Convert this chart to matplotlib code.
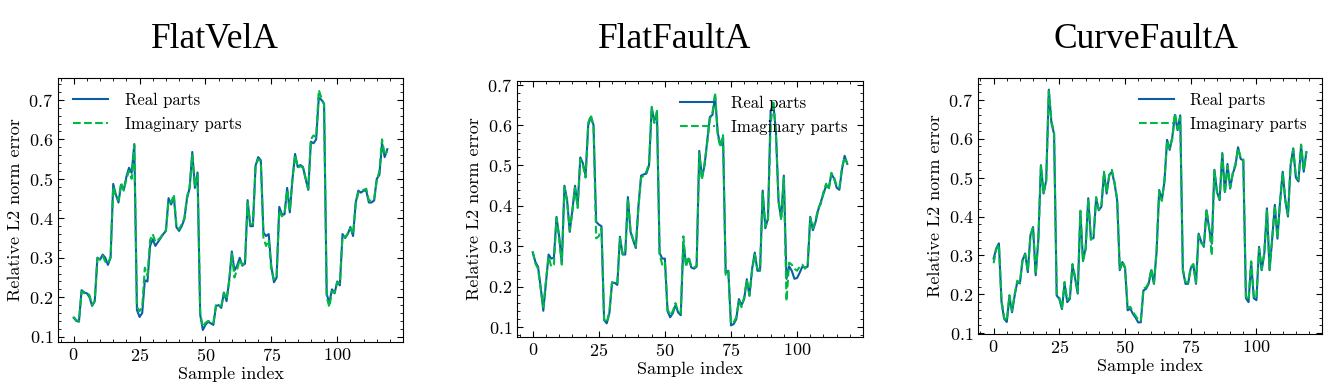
import numpy as np
import matplotlib
matplotlib.use("Agg")
import matplotlib.pyplot as plt
from matplotlib.ticker import MultipleLocator

plt.rcParams['font.family'] = 'serif'
plt.rcParams['font.serif'] = ['cmr10', 'DejaVu Serif']
plt.rcParams['mathtext.fontset'] = 'cm'
plt.rcParams['axes.formatter.use_mathtext'] = True

# Datos (error relativo L2 por muestra)
titulos = ['FlatVelA', 'FlatFaultA', 'CurveFaultA']

flatvel_real = [0.148, 0.140, 0.138, 0.218, 0.212, 0.210, 0.200, 0.178, 0.190, 0.300,
                0.295, 0.308, 0.300, 0.282, 0.300, 0.487, 0.460, 0.440, 0.485, 0.472,
                0.505, 0.528, 0.515, 0.588, 0.168, 0.150, 0.160, 0.243, 0.240, 0.330,
                0.347, 0.330, 0.340, 0.350, 0.360, 0.368, 0.451, 0.435, 0.455, 0.377,
                0.368, 0.380, 0.398, 0.450, 0.477, 0.568, 0.477, 0.516, 0.156, 0.117,
                0.130, 0.138, 0.134, 0.130, 0.178, 0.180, 0.173, 0.212, 0.190, 0.243,
                0.316, 0.268, 0.280, 0.300, 0.280, 0.285, 0.446, 0.380, 0.380, 0.533,
                0.555, 0.547, 0.364, 0.355, 0.360, 0.277, 0.238, 0.250, 0.429, 0.410,
                0.410, 0.477, 0.415, 0.498, 0.563, 0.530, 0.535, 0.530, 0.500, 0.472,
                0.594, 0.590, 0.600, 0.706, 0.700, 0.690, 0.208, 0.186, 0.220, 0.210,
                0.240, 0.230, 0.360, 0.350, 0.360, 0.378, 0.355, 0.440, 0.470, 0.465,
                0.470, 0.470, 0.440, 0.440, 0.445, 0.500, 0.510, 0.590, 0.555, 0.575]
flatvel_imag = [0.150, 0.142, 0.140, 0.215, 0.210, 0.212, 0.205, 0.180, 0.192, 0.298,
                0.297, 0.305, 0.290, 0.285, 0.302, 0.480, 0.455, 0.445, 0.490, 0.470,
                0.500, 0.520, 0.500, 0.585, 0.175, 0.165, 0.175, 0.275, 0.255, 0.345,
                0.360, 0.340, 0.345, 0.352, 0.362, 0.370, 0.445, 0.440, 0.460, 0.380,
                0.372, 0.385, 0.400, 0.455, 0.480, 0.560, 0.480, 0.510, 0.160, 0.125,
                0.135, 0.140, 0.138, 0.135, 0.180, 0.178, 0.178, 0.210, 0.195, 0.240,
                0.310, 0.250, 0.270, 0.295, 0.282, 0.287, 0.440, 0.385, 0.385, 0.530,
                0.550, 0.545, 0.350, 0.330, 0.345, 0.270, 0.245, 0.255, 0.420, 0.405,
                0.412, 0.470, 0.420, 0.500, 0.560, 0.528, 0.532, 0.528, 0.502, 0.475,
                0.600, 0.610, 0.605, 0.725, 0.705, 0.690, 0.200, 0.175, 0.215, 0.212,
                0.238, 0.235, 0.355, 0.352, 0.362, 0.375, 0.360, 0.435, 0.465, 0.468,
                0.472, 0.475, 0.445, 0.445, 0.450, 0.495, 0.520, 0.600, 0.560, 0.570]

flatfault_real = [0.285, 0.262, 0.250, 0.200, 0.141, 0.210, 0.280, 0.270, 0.272, 0.373,
                  0.325, 0.259, 0.450, 0.415, 0.336, 0.390, 0.450, 0.400, 0.520, 0.505,
                  0.475, 0.600, 0.620, 0.600, 0.361, 0.354, 0.350, 0.118, 0.110, 0.135,
                  0.210, 0.210, 0.205, 0.324, 0.280, 0.280, 0.422, 0.336, 0.315, 0.296,
                  0.400, 0.475, 0.478, 0.480, 0.500, 0.641, 0.610, 0.630, 0.284, 0.270,
                  0.270, 0.140, 0.125, 0.135, 0.155, 0.137, 0.130, 0.308, 0.255, 0.270,
                  0.248, 0.245, 0.250, 0.536, 0.470, 0.500, 0.560, 0.620, 0.625, 0.670,
                  0.580, 0.550, 0.570, 0.235, 0.240, 0.105, 0.108, 0.120, 0.170, 0.155,
                  0.170, 0.219, 0.178, 0.245, 0.285, 0.240, 0.240, 0.438, 0.345, 0.370,
                  0.633, 0.654, 0.585, 0.410, 0.370, 0.475, 0.220, 0.251, 0.240, 0.220,
                  0.222, 0.235, 0.250, 0.248, 0.250, 0.373, 0.340, 0.360, 0.390, 0.410,
                  0.430, 0.450, 0.445, 0.479, 0.468, 0.445, 0.440, 0.490, 0.524, 0.504]
flatfault_imag = [0.288, 0.258, 0.245, 0.195, 0.150, 0.215, 0.275, 0.250, 0.255, 0.370,
                  0.320, 0.255, 0.445, 0.410, 0.340, 0.385, 0.445, 0.395, 0.515, 0.500,
                  0.470, 0.605, 0.625, 0.595, 0.320, 0.325, 0.345, 0.120, 0.112, 0.138,
                  0.212, 0.208, 0.210, 0.320, 0.282, 0.282, 0.418, 0.340, 0.318, 0.300,
                  0.398, 0.470, 0.475, 0.485, 0.505, 0.645, 0.605, 0.635, 0.280, 0.255,
                  0.262, 0.145, 0.130, 0.140, 0.160, 0.140, 0.135, 0.325, 0.250, 0.275,
                  0.250, 0.248, 0.252, 0.530, 0.465, 0.505, 0.555, 0.615, 0.630, 0.680,
                  0.575, 0.545, 0.575, 0.230, 0.238, 0.110, 0.112, 0.125, 0.165, 0.150,
                  0.175, 0.215, 0.180, 0.240, 0.280, 0.245, 0.242, 0.430, 0.350, 0.365,
                  0.600, 0.660, 0.580, 0.415, 0.365, 0.470, 0.165, 0.260, 0.255, 0.245,
                  0.240, 0.250, 0.255, 0.245, 0.252, 0.370, 0.345, 0.365, 0.395, 0.405,
                  0.435, 0.455, 0.440, 0.482, 0.470, 0.450, 0.445, 0.495, 0.520, 0.505]

curvefault_real = [0.292, 0.318, 0.331, 0.180, 0.137, 0.129, 0.193, 0.154, 0.197, 0.232,
                   0.228, 0.288, 0.305, 0.257, 0.352, 0.373, 0.249, 0.340, 0.532, 0.459,
                   0.493, 0.726, 0.640, 0.612, 0.197, 0.188, 0.162, 0.228, 0.180, 0.188,
                   0.275, 0.241, 0.202, 0.412, 0.288, 0.318, 0.447, 0.344, 0.344, 0.447,
                   0.416, 0.425, 0.511, 0.459, 0.507, 0.515, 0.485, 0.442, 0.262, 0.283,
                   0.267, 0.159, 0.163, 0.150, 0.140, 0.128, 0.128, 0.210, 0.214, 0.227,
                   0.262, 0.227, 0.309, 0.468, 0.442, 0.490, 0.597, 0.571, 0.605, 0.661,
                   0.622, 0.660, 0.262, 0.227, 0.227, 0.267, 0.275, 0.227, 0.356, 0.335,
                   0.322, 0.416, 0.369, 0.330, 0.520, 0.463, 0.442, 0.563, 0.463, 0.535,
                   0.472, 0.510, 0.530, 0.578, 0.548, 0.544, 0.190, 0.180, 0.283, 0.190,
                   0.185, 0.322, 0.262, 0.305, 0.421, 0.262, 0.343, 0.430, 0.343, 0.440,
                   0.515, 0.440, 0.400, 0.532, 0.575, 0.500, 0.490, 0.582, 0.515, 0.565]
curvefault_imag = [0.280, 0.315, 0.328, 0.185, 0.140, 0.132, 0.198, 0.158, 0.200, 0.235,
                   0.230, 0.290, 0.302, 0.260, 0.350, 0.370, 0.252, 0.338, 0.530, 0.462,
                   0.490, 0.722, 0.645, 0.615, 0.200, 0.192, 0.165, 0.232, 0.185, 0.192,
                   0.278, 0.245, 0.205, 0.415, 0.285, 0.315, 0.445, 0.340, 0.348, 0.450,
                   0.418, 0.428, 0.515, 0.462, 0.505, 0.520, 0.488, 0.445, 0.265, 0.285,
                   0.270, 0.165, 0.168, 0.155, 0.145, 0.135, 0.132, 0.215, 0.218, 0.230,
                   0.265, 0.230, 0.312, 0.465, 0.440, 0.492, 0.595, 0.575, 0.600, 0.665,
                   0.625, 0.655, 0.265, 0.232, 0.230, 0.270, 0.278, 0.230, 0.352, 0.332,
                   0.325, 0.418, 0.372, 0.300, 0.518, 0.460, 0.445, 0.560, 0.460, 0.530,
                   0.475, 0.512, 0.535, 0.575, 0.552, 0.548, 0.195, 0.185, 0.285, 0.195,
                   0.190, 0.318, 0.265, 0.308, 0.418, 0.265, 0.345, 0.428, 0.345, 0.438,
                   0.512, 0.442, 0.405, 0.530, 0.572, 0.505, 0.495, 0.585, 0.520, 0.568]

reales = [flatvel_real, flatfault_real, curvefault_real]
imaginarios = [flatvel_imag, flatfault_imag, curvefault_imag]

fig = plt.figure(figsize=(13.29, 3.89), dpi=100)
W, H = 1329, 389
# posiciones de los ejes en pixeles (izq, der, arriba, abajo)
cajas = [(58, 403, 78, 342), (517, 863, 81, 337), (978, 1322, 78, 334)]
centros_titulo = [215, 675, 1146]
locs = ['upper left', 'upper right', 'upper right']

for k in range(3):
    l, r, t, b = cajas[k]
    ax = fig.add_axes([l / W, (H - b) / H, (r - l) / W, (b - t) / H])
    idx = np.arange(len(reales[k]))
    ax.plot(idx, reales[k], color='#0C5DA5', lw=1.5, label='Real parts')
    ax.plot(idx, imaginarios[k], color='#00B945', lw=1.5, ls='--', label='Imaginary parts')
    ax.set_xlabel('Sample index', fontsize=13, labelpad=2)
    ax.set_ylabel('Relative L2 norm error', fontsize=13, labelpad=4)
    ax.xaxis.set_major_locator(MultipleLocator(25))
    ax.xaxis.set_minor_locator(MultipleLocator(5))
    ax.yaxis.set_major_locator(MultipleLocator(0.1))
    ax.yaxis.set_minor_locator(MultipleLocator(0.02))
    ax.tick_params(which='both', direction='in', top=True, right=True, labelsize=13)
    ax.tick_params(which='major', length=4, width=0.8)
    ax.tick_params(which='minor', length=2, width=0.6)
    ax.legend(loc=locs[k], frameon=False, fontsize=12, handlelength=2.1, handletextpad=1.0)
    fig.text(centros_titulo[k] / W, 1 - 40 / H, titulos[k], ha='center', va='center',
             fontsize=25.5, family='Liberation Serif')

fig.savefig('out.png', dpi=100)
